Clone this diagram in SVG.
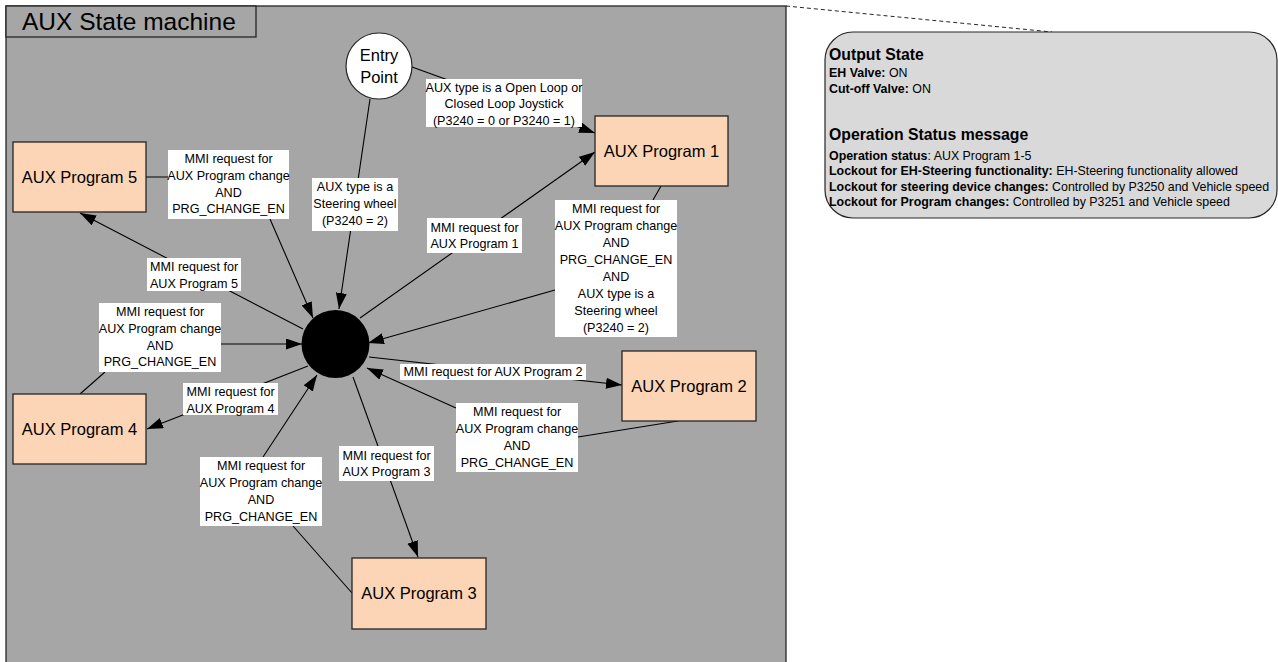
<svg xmlns="http://www.w3.org/2000/svg" width="1278" height="662" viewBox="0 0 1278 662">
<style>
text{font-family:"Liberation Sans",Arial,sans-serif;fill:#000}
.node rect{fill:#fbd5b5;stroke:#262626;stroke-width:1.3}
.node text{font-size:16.5px;text-anchor:middle}
.lbl rect{fill:#fff;stroke:none}
.lbl text{font-size:12.6px;text-anchor:middle}
.conn path{fill:none;stroke:#000;stroke-width:1.1;marker-end:url(#arr)}
.pt{font-size:12.4px}
.ph{font-size:15.8px;font-weight:bold}
.b{font-weight:bold}
</style>
<defs>
<marker id="arr" markerUnits="userSpaceOnUse" markerWidth="17" markerHeight="12" refX="16" refY="5.5" orient="auto">
<path d="M0,0 L16,5.5 L0,11 z" fill="#000"/>
</marker>
</defs>
<rect width="1278" height="662" fill="#fff"/>
<g id="frame">
<rect x="6" y="6" width="780" height="660" fill="#a6a6a6" stroke="#262626" stroke-width="1.3"/>
<rect x="6" y="6" width="250" height="31" fill="#a6a6a6" stroke="#262626" stroke-width="1.3"/>
<text x="22" y="30" font-size="24.5">AUX State machine</text>
</g>
<g id="note">
<path d="M786,6 L1052,32" stroke="#262626" stroke-width="1" stroke-dasharray="4,3" fill="none"/>
<rect x="825" y="32" width="452" height="186" rx="28" ry="28" fill="#d9d9d9" stroke="#262626" stroke-width="1.2"/>
<text x="829" y="60" class="ph">Output State</text>
<text x="829" y="77" class="pt"><tspan class="b">EH Valve:</tspan> ON</text>
<text x="829" y="92.5" class="pt"><tspan class="b">Cut-off Valve:</tspan> ON</text>
<text x="829" y="140" class="ph">Operation Status message</text>
<text x="829" y="159.5" class="pt"><tspan class="b">Operation status</tspan>: AUX Program 1-5</text>
<text x="829" y="175" class="pt"><tspan class="b">Lockout for EH-Steering functionality:</tspan> EH-Steering functionality allowed</text>
<text x="829" y="190.5" class="pt"><tspan class="b">Lockout for steering device changes:</tspan> Controlled by P3250 and Vehicle speed</text>
<text x="829" y="206" class="pt"><tspan class="b">Lockout for Program changes:</tspan> Controlled by P3251 and Vehicle speed</text>
</g>
<g id="connectors" class="conn">
<path d="M412,67 L595,133"/>
<path d="M370,99 L339,309"/>
<path d="M146,177 L168,177 M270,219 L313,318"/>
<path d="M303,329 L80,213"/>
<path d="M80,394 L105,372 M221,344 L302,344"/>
<path d="M308,366 L147,429"/>
<path d="M360,318 L595,152"/>
<path d="M661,186 L653,200 M555,290 L368,343"/>
<path d="M369,357 L622,385"/>
<path d="M678,421 L578,437 M456,408 L367,368"/>
<path d="M353,377 L418,557"/>
<path d="M352,593 L293,526 M263,457 L317,375"/>
</g>
<g id="labels" class="lbl">
<g><rect x="426" y="79" width="156" height="48"/><text x="504" y="91.5">AUX type is a Open Loop or<tspan x="504" dy="16.5">Closed Loop Joystick</tspan><tspan x="504" dy="16.5">(P3240 = 0 or P3240 = 1)</tspan></text></g>
<g><rect x="312" y="178" width="86" height="53"/><text x="355" y="191">AUX type is a<tspan x="355" dy="17">Steering wheel</tspan><tspan x="355" dy="17">(P3240 = 2)</tspan></text></g>
<g><rect x="168" y="150" width="121" height="69"/><text x="228.5" y="163">MMI request for<tspan x="228.5" dy="16.8">AUX Program change</tspan><tspan x="228.5" dy="16.8">AND</tspan><tspan x="228.5" dy="16.8">PRG_CHANGE_EN</tspan></text></g>
<g><rect x="147" y="258" width="94" height="33"/><text x="194" y="271">MMI request for<tspan x="194" dy="16.5">AUX Program 5</tspan></text></g>
<g><rect x="99" y="303" width="122" height="69"/><text x="160" y="316">MMI request for<tspan x="160" dy="16.8">AUX Program change</tspan><tspan x="160" dy="16.8">AND</tspan><tspan x="160" dy="16.8">PRG_CHANGE_EN</tspan></text></g>
<g><rect x="183" y="383" width="95" height="32"/><text x="230.5" y="396">MMI request for<tspan x="230.5" dy="16.5">AUX Program 4</tspan></text></g>
<g><rect x="427" y="218" width="95" height="35"/><text x="474.5" y="231.5">MMI request for<tspan x="474.5" dy="16.5">AUX Program 1</tspan></text></g>
<g><rect x="555" y="200" width="122" height="137"/><text x="616" y="213">MMI request for<tspan x="616" dy="17">AUX Program change</tspan><tspan x="616" dy="17">AND</tspan><tspan x="616" dy="17">PRG_CHANGE_EN</tspan><tspan x="616" dy="17">AND</tspan><tspan x="616" dy="17">AUX type is a</tspan><tspan x="616" dy="17">Steering wheel</tspan><tspan x="616" dy="17">(P3240 = 2)</tspan></text></g>
<g><rect x="400" y="364" width="186" height="16"/><text x="493" y="376">MMI request for AUX Program 2</text></g>
<g><rect x="456" y="403" width="122" height="69"/><text x="517" y="416">MMI request for<tspan x="517" dy="16.9">AUX Program change</tspan><tspan x="517" dy="16.9">AND</tspan><tspan x="517" dy="16.9">PRG_CHANGE_EN</tspan></text></g>
<g><rect x="339" y="446" width="95" height="35"/><text x="386.5" y="459.5">MMI request for<tspan x="386.5" dy="16.8">AUX Program 3</tspan></text></g>
<g><rect x="200" y="457" width="122" height="69"/><text x="261" y="470">MMI request for<tspan x="261" dy="16.9">AUX Program change</tspan><tspan x="261" dy="16.9">AND</tspan><tspan x="261" dy="16.9">PRG_CHANGE_EN</tspan></text></g>
</g>
<g id="entry">
<circle cx="379" cy="66" r="33" fill="#fff" stroke="#262626" stroke-width="1.2"/>
<text x="379" y="61" font-size="16.5" text-anchor="middle">Entry</text>
<text x="379" y="83" font-size="16.5" text-anchor="middle">Point</text>
</g>
<g id="hub">
<circle cx="335.5" cy="344" r="34" fill="#000"/>
</g>
<g id="aux1" class="node"><rect x="595" y="116" width="133" height="70"/><text x="661.5" y="157">AUX Program 1</text></g>
<g id="aux2" class="node"><rect x="622" y="351" width="134" height="70"/><text x="689" y="392">AUX Program 2</text></g>
<g id="aux3" class="node"><rect x="352" y="558" width="134" height="71"/><text x="419" y="599">AUX Program 3</text></g>
<g id="aux4" class="node"><rect x="13" y="394" width="133" height="70"/><text x="79.5" y="435">AUX Program 4</text></g>
<g id="aux5" class="node"><rect x="13" y="142" width="133" height="70"/><text x="79.5" y="183">AUX Program 5</text></g>
</svg>
